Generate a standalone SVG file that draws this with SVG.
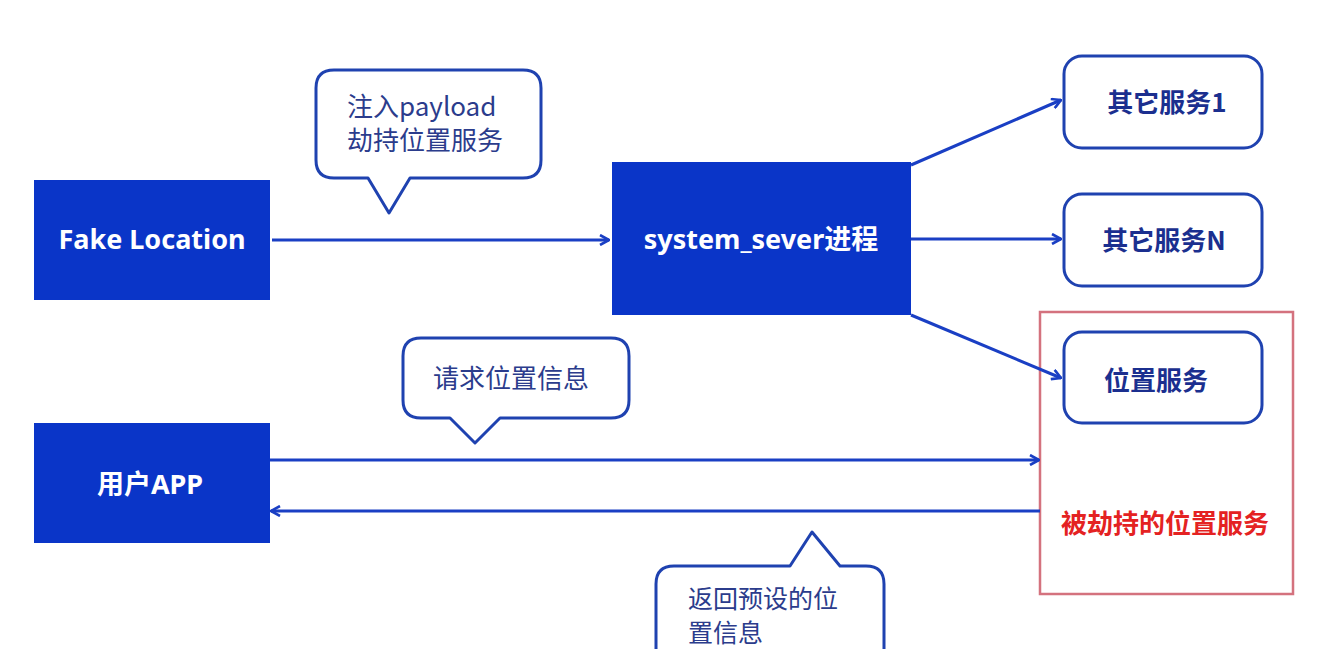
<svg xmlns="http://www.w3.org/2000/svg" width="1341" height="649" viewBox="0 0 1341 649">
<style>
.solid{fill:#0a35c8}
.wt{fill:#fff;font-family:"Noto Sans","Noto Sans CJK SC",sans-serif;font-weight:bold;font-size:27px;text-anchor:middle}
.svc{fill:#fff;stroke:#1f42b0;stroke-width:3}
.st{fill:#1b2f8f;font-family:"Noto Sans CJK SC",sans-serif;font-weight:bold;font-size:26px;text-anchor:middle}
.call{fill:#fff;stroke:#1f42b0;stroke-width:3;stroke-linejoin:round}
.ct{fill:#2b3c8c;font-family:"Noto Sans CJK SC",sans-serif;font-size:26px}
.ln{stroke:#1a3fc4;stroke-width:3;fill:none}
</style>
<defs>
<marker id="ah" viewBox="0 0 12 12" refX="11" refY="6" markerWidth="12" markerHeight="12" markerUnits="userSpaceOnUse" orient="auto">
<polyline points="2,1 11,6 2,11" fill="none" stroke="#1a3fc4" stroke-width="2.6"/>
</marker>
</defs>
<rect width="1341" height="649" fill="#fff"/>

<g id="callout-inject">
<path class="call" d="M334,70 H523 Q541,70 541,88 V160 Q541,178 523,178 H410 L389,213 L368,178 H334 Q316,178 316,160 V88 Q316,70 334,70 Z"/>
<text class="ct" x="347" y="116">注入payload</text>
<text class="ct" x="347" y="150">劫持位置服务</text>
</g>

<g id="callout-request">
<path class="call" d="M421,338 H611 Q629,338 629,356 V400 Q629,418 611,418 H500 L475,443 L450,418 H421 Q403,418 403,400 V356 Q403,338 421,338 Z"/>
<text class="ct" x="433" y="388">请求位置信息</text>
</g>

<g id="callout-return">
<path class="call" d="M674,566 H790 L812,532 L840,566 H866 Q884,566 884,584 V660 H656 V584 Q656,566 674,566 Z"/>
<text class="ct" x="688" y="608" style="font-size:25px">返回预设的位</text>
<text class="ct" x="688" y="642" style="font-size:25px">置信息</text>
</g>

<g id="fake-location">
<rect class="solid" x="34" y="180" width="236" height="120"/>
<text class="wt" x="152" y="249">Fake Location</text>
</g>

<g id="system-server">
<rect class="solid" x="612" y="162" width="299" height="153"/>
<text class="wt" x="761" y="249">system_sever进程</text>
</g>

<g id="user-app">
<rect class="solid" x="34" y="423" width="236" height="120"/>
<text class="wt" x="150" y="494">用户APP</text>
</g>

<g id="other-service-1">
<rect class="svc" x="1064" y="56" width="198" height="92" rx="18"/>
<text class="st" x="1167" y="112">其它服务1</text>
</g>

<g id="other-service-n">
<rect class="svc" x="1064" y="194" width="198" height="92" rx="18"/>
<text class="st" x="1164" y="250">其它服务N</text>
</g>

<g id="hijacked-group">
<rect x="1040" y="312" width="253" height="282" fill="none" stroke="#d4727e" stroke-width="2.5"/>
<text x="1165" y="533" fill="#e42222" font-family="Noto Sans CJK SC,sans-serif" font-weight="bold" font-size="26" text-anchor="middle">被劫持的位置服务</text>
</g>

<g id="location-service">
<rect class="svc" x="1064" y="332" width="198" height="91" rx="18"/>
<text class="st" x="1156" y="390">位置服务</text>
</g>

<g id="connectors">
<line class="ln" x1="272" y1="240" x2="609" y2="240" marker-end="url(#ah)"/>
<line class="ln" x1="911" y1="165" x2="1061" y2="100" marker-end="url(#ah)"/>
<line class="ln" x1="911" y1="239" x2="1061" y2="239" marker-end="url(#ah)"/>
<line class="ln" x1="911" y1="315" x2="1061" y2="378" marker-end="url(#ah)"/>
<line class="ln" x1="270" y1="460" x2="1039" y2="460" marker-end="url(#ah)"/>
<line class="ln" x1="1040" y1="511" x2="271" y2="511" marker-end="url(#ah)"/>
</g>
</svg>
